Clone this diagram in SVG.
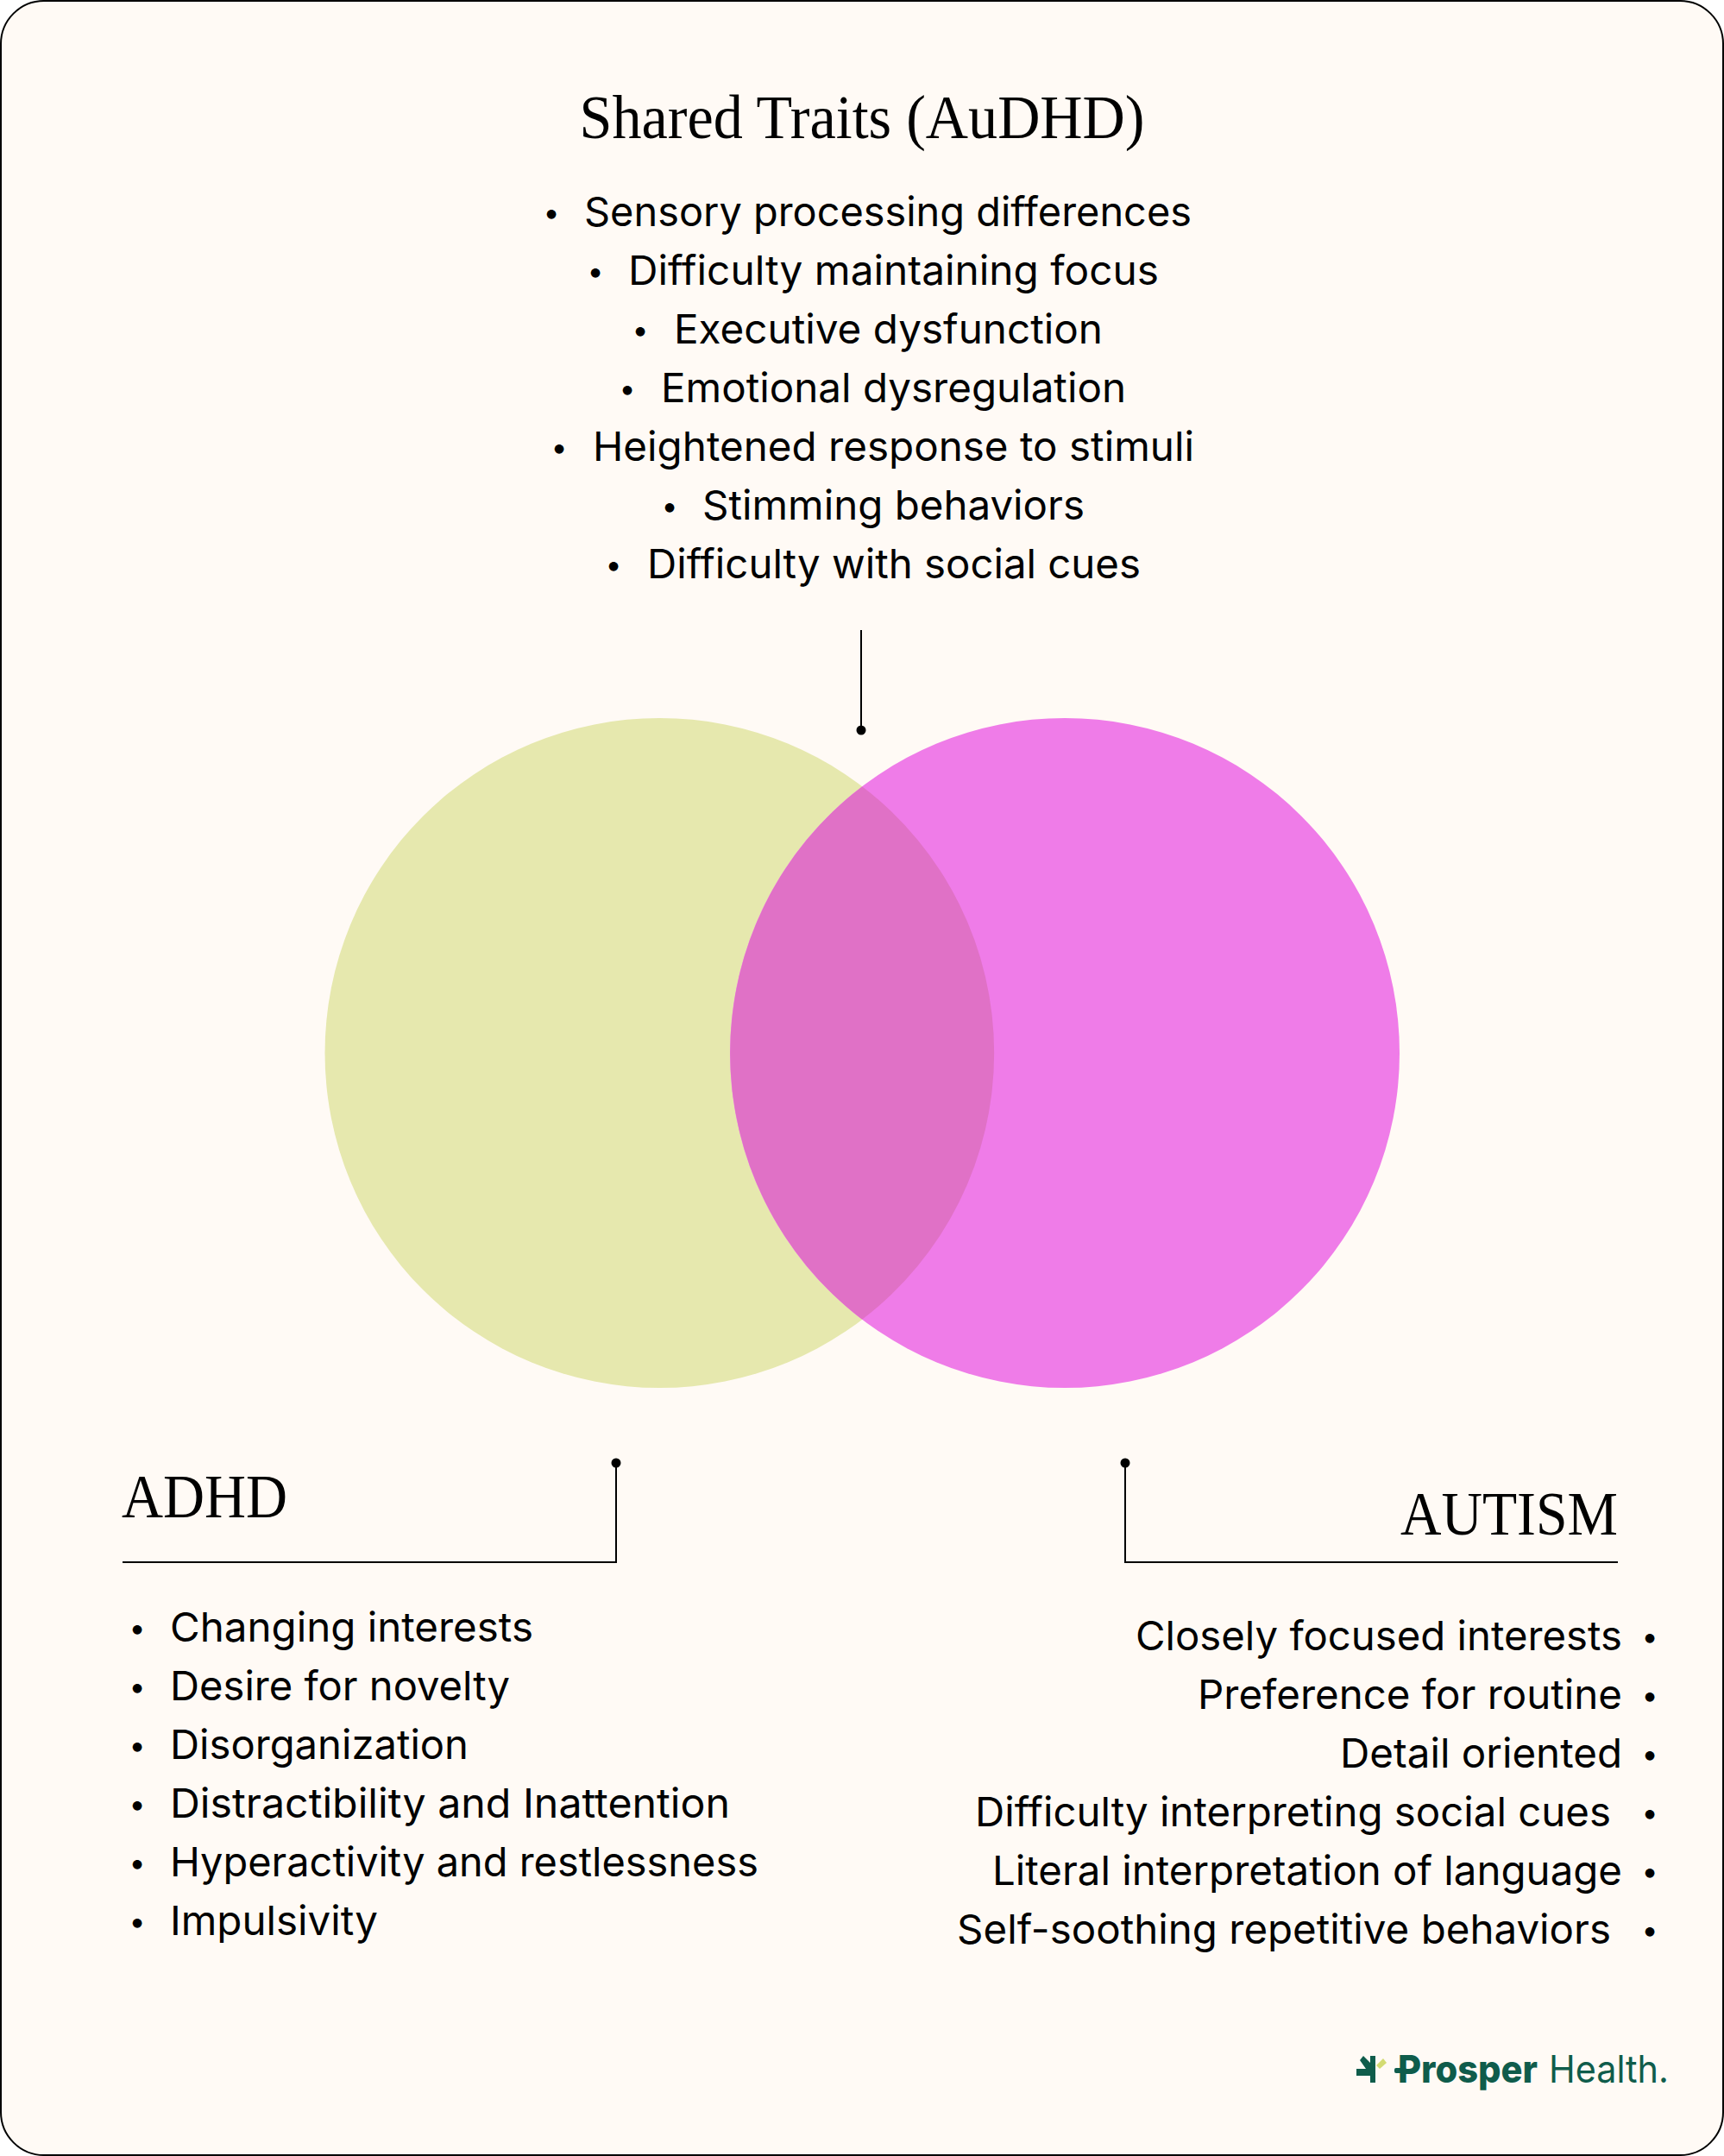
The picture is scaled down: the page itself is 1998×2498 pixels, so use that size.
<svg xmlns="http://www.w3.org/2000/svg" width="1998" height="2498" viewBox="0 0 1998 2498">
<style>
.h{font-family:"Liberation Serif",serif;font-size:71px;fill:#000}
.b{font-family:Inter,"Liberation Sans",sans-serif;font-size:47px;fill:#000}
.u{font-family:Inter,"Liberation Sans",sans-serif;font-size:34px;fill:#000;text-anchor:middle}
.m{text-anchor:middle}
.l{fill:none;stroke:#000;stroke-width:2}
.d{fill:#000}
.g{fill:#0f5c4b}
.lg{font-family:Inter,"Liberation Sans",sans-serif;font-size:44px;fill:#0f5c4b}
</style>
<rect id="card" x="1" y="1" width="1996" height="2496" rx="50" fill="#fffaf5" stroke="#000" stroke-width="2"/>
<g id="venn">
<circle id="adhd-circle" cx="764.5" cy="1220" r="388" fill="#e6e8ae"/>
<circle id="autism-circle" cx="1234" cy="1220" r="388" fill="#ef7ce8"/>
<path id="overlap" d="M999.2 911.3A388 388 0 0 1 999.2 1528.7A388 388 0 0 1 999.2 911.3Z" fill="#e071c6"/>
</g>
<g id="connectors">
<path class="l" d="M998 730V846"/><circle class="d" cx="998" cy="846" r="5.5"/>
<path class="l" d="M142 1810H714V1695"/><circle class="d" cx="714" cy="1695" r="5.5"/>
<path class="l" d="M1875 1810H1304V1695"/><circle class="d" cx="1304" cy="1695" r="5.5"/>
</g>
<g id="shared">
<text class="h m" x="999" y="160" textLength="655" lengthAdjust="spacingAndGlyphs">Shared Traits (AuDHD)</text>
<text class="u" x="639" y="258">•</text><text class="b" x="677" y="262" textLength="704" lengthAdjust="spacingAndGlyphs">Sensory processing differences</text>
<text class="u" x="690" y="326">•</text><text class="b" x="728" y="330" textLength="615" lengthAdjust="spacingAndGlyphs">Difficulty maintaining focus</text>
<text class="u" x="742" y="394">•</text><text class="b" x="781" y="398" textLength="497" lengthAdjust="spacingAndGlyphs">Executive dysfunction</text>
<text class="u" x="727" y="462">•</text><text class="b" x="766" y="466" textLength="539" lengthAdjust="spacingAndGlyphs">Emotional dysregulation</text>
<text class="u" x="648" y="530">•</text><text class="b" x="687" y="534" textLength="697" lengthAdjust="spacingAndGlyphs">Heightened response to stimuli</text>
<text class="u" x="776" y="598">•</text><text class="b" x="814" y="602" textLength="443" lengthAdjust="spacingAndGlyphs">Stimming behaviors</text>
<text class="u" x="711" y="666">•</text><text class="b" x="750" y="670" textLength="572" lengthAdjust="spacingAndGlyphs">Difficulty with social cues</text>
</g>
<g id="adhd">
<text class="h" x="141" y="1758" textLength="192" lengthAdjust="spacingAndGlyphs">ADHD</text>
<text class="u" x="159" y="1898">•</text><text class="b" x="197" y="1902" textLength="421" lengthAdjust="spacingAndGlyphs">Changing interests</text>
<text class="u" x="159" y="1966">•</text><text class="b" x="197" y="1970" textLength="394" lengthAdjust="spacingAndGlyphs">Desire for novelty</text>
<text class="u" x="159" y="2034">•</text><text class="b" x="197" y="2038" textLength="346" lengthAdjust="spacingAndGlyphs">Disorganization</text>
<text class="u" x="159" y="2102">•</text><text class="b" x="197" y="2106" textLength="649" lengthAdjust="spacingAndGlyphs">Distractibility and Inattention</text>
<text class="u" x="159" y="2170">•</text><text class="b" x="197" y="2174" textLength="682" lengthAdjust="spacingAndGlyphs">Hyperactivity and restlessness</text>
<text class="u" x="159" y="2238">•</text><text class="b" x="197" y="2242" textLength="241" lengthAdjust="spacingAndGlyphs">Impulsivity</text>
</g>
<g id="autism">
<text class="h" x="1623" y="1778" textLength="252" lengthAdjust="spacingAndGlyphs">AUTISM</text>
<text class="b" x="1316" y="1912" textLength="564" lengthAdjust="spacingAndGlyphs">Closely focused interests</text><text class="u" x="1912" y="1908">•</text>
<text class="b" x="1388" y="1980" textLength="492" lengthAdjust="spacingAndGlyphs">Preference for routine</text><text class="u" x="1912" y="1976">•</text>
<text class="b" x="1553" y="2048" textLength="327" lengthAdjust="spacingAndGlyphs">Detail oriented</text><text class="u" x="1912" y="2044">•</text>
<text class="b" x="1130" y="2116" textLength="737" lengthAdjust="spacingAndGlyphs">Difficulty interpreting social cues</text><text class="u" x="1912" y="2112">•</text>
<text class="b" x="1150" y="2184" textLength="730" lengthAdjust="spacingAndGlyphs">Literal interpretation of language</text><text class="u" x="1912" y="2180">•</text>
<text class="b" x="1109" y="2252" textLength="758" lengthAdjust="spacingAndGlyphs">Self-soothing repetitive behaviors</text><text class="u" x="1912" y="2248">•</text>
</g>
<g id="logo">
<path class="g" d="M1576 2387L1580 2382L1588 2390V2382H1594V2413H1588V2405H1572V2397H1583Z"/>
<path d="M1595 2393L1603 2385L1607 2390L1599 2397Z" fill="#d3db72"/>
<rect class="g" x="1616" y="2396" width="14" height="6" rx="2"/>
<text class="lg" x="1620" y="2413" font-weight="800" textLength="162" lengthAdjust="spacingAndGlyphs">Prosper</text>
<text class="lg" x="1795" y="2413" textLength="139" lengthAdjust="spacingAndGlyphs">Health.</text>
</g>
</svg>
